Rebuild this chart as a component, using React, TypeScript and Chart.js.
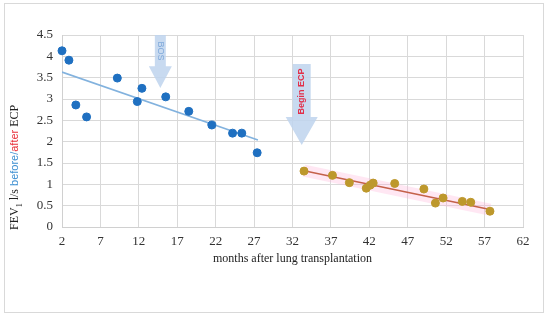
import React, { useEffect, useRef } from "react";
import { Chart, registerables } from "chart.js";

Chart.register(...registerables);

const blueX = [2.0, 2.9, 3.8, 5.2, 9.2, 11.8, 12.4, 15.5, 18.5, 21.5, 24.2, 25.4, 27.4];
const blueY = [4.13, 3.91, 2.86, 2.58, 3.49, 2.94, 3.25, 3.05, 2.71, 2.39, 2.2, 2.2, 1.74];
const goldX = [33.5, 37.2, 39.4, 41.6, 42.1, 42.5, 45.3, 49.1, 50.6, 51.6, 54.1, 55.2, 57.7];
const goldY = [1.31, 1.21, 1.04, 0.91, 0.98, 1.03, 1.02, 0.89, 0.56, 0.68, 0.6, 0.58, 0.37];
const blueTrendX = [2, 27.5];
const blueTrendY = [3.63, 2.04];
const redTrendX = [33.5, 57.7];
const redTrendY = [1.32, 0.41];
const arrowLabels = ["BOS", "Begin ECP"];
const arrowX = [14.8, 33.2];
const arrowTop = [4.5, 3.82];
const arrowHead = [3.77, 2.58];
const arrowTip = [3.26, 1.92];
const xTitle = "months after lung transplantation";

const pts = (xs: number[], ys: number[]) => xs.map((x, i) => ({ x, y: ys[i] }));

const SERIF = "'Liberation Serif', 'Times New Roman', serif";
const SANS = "'Liberation Sans', Arial, sans-serif";

const decor = {
  id: "decor",
  beforeDraw(chart: any) {
    const ctx = chart.ctx;
    ctx.save();
    ctx.fillStyle = "#fff";
    ctx.fillRect(0, 0, chart.width, chart.height);
    ctx.strokeStyle = "#d9d9d9";
    ctx.lineWidth = 1;
    ctx.strokeRect(4.5, 3.5, 539, 309);
    ctx.restore();
  },
  afterDatasetsDraw(chart: any) {
    const ctx = chart.ctx;
    const xs = chart.scales.x;
    const ys = chart.scales.y;
    ctx.save();
    const shaftHalf = [5.5, 9];
    const headHalf = [11.5, 16];
    arrowLabels.forEach((lab, i) => {
      const cx = xs.getPixelForValue(arrowX[i]);
      const t = ys.getPixelForValue(arrowTop[i]);
      const h = ys.getPixelForValue(arrowHead[i]);
      const tip = ys.getPixelForValue(arrowTip[i]);
      ctx.fillStyle = "rgba(190,212,237,0.85)";
      ctx.beginPath();
      ctx.moveTo(cx - shaftHalf[i], t);
      ctx.lineTo(cx + shaftHalf[i], t);
      ctx.lineTo(cx + shaftHalf[i], h);
      ctx.lineTo(cx + headHalf[i], h);
      ctx.lineTo(cx, tip);
      ctx.lineTo(cx - headHalf[i], h);
      ctx.lineTo(cx - shaftHalf[i], h);
      ctx.closePath();
      ctx.fill();
      ctx.save();
      if (i === 0) {
        ctx.translate(cx, t + 16);
        ctx.rotate(Math.PI / 2);
        ctx.fillStyle = "#7fa9da";
        ctx.font = `9px ${SANS}`;
      } else {
        ctx.translate(cx, (t + h) / 2 + 1);
        ctx.rotate(-Math.PI / 2);
        ctx.fillStyle = "#e2304a";
        ctx.font = `bold 9px ${SANS}`;
      }
      ctx.textAlign = "center";
      ctx.textBaseline = "middle";
      ctx.fillText(lab, 0, 0);
      ctx.restore();
    });
    ctx.restore();
  },
  afterDraw(chart: any) {
    const ctx = chart.ctx;
    const xs = chart.scales.x;
    ctx.save();
    ctx.fillStyle = "#222";
    ctx.font = `12px ${SERIF}`;
    ctx.textAlign = "center";
    ctx.textBaseline = "middle";
    ctx.fillText(xTitle, (xs.left + xs.right) / 2, 259);
    ctx.translate(18, 230);
    ctx.rotate(-Math.PI / 2);
    ctx.textAlign = "left";
    ctx.textBaseline = "alphabetic";
    const parts: [string, string, string, number][] = [
      ["FEV", SERIF, "#222", 0],
      ["1", SERIF, "#222", 4],
      [" l/s ", SERIF, "#222", 0],
      ["before", SANS, "#3d8fd1", 0],
      ["/", SANS, "#3d8fd1", 0],
      ["after", SANS, "#e8303a", 0],
      [" ECP", SERIF, "#222", 0],
    ];
    let x = 0;
    parts.forEach(([s, f, c, sub]) => {
      const size = sub ? 8 : f === SANS ? 11 : 12;
      ctx.font = `${size}px ${f}`;
      ctx.fillStyle = c;
      ctx.fillText(s, x, sub);
      x += ctx.measureText(s).width;
    });
    ctx.restore();
  },
};

export default function App() {
  const ref = useRef<HTMLCanvasElement>(null);
  useEffect(() => {
    document.body.style.margin = "0";
    const chart = new Chart(ref.current!, {
      type: "scatter",
      data: {
        datasets: [
          {
            type: "line",
            data: pts(redTrendX, redTrendY),
            borderColor: "rgba(255,175,215,0.3)",
            borderWidth: 12,
            pointRadius: 0,
            order: 5,
          } as any,
          {
            type: "line",
            data: pts(blueTrendX, blueTrendY),
            borderColor: "#82b2de",
            borderWidth: 1.6,
            pointRadius: 0,
            order: 4,
          } as any,
          {
            type: "line",
            data: pts(redTrendX, redTrendY),
            borderColor: "#c4614a",
            borderWidth: 1.5,
            pointRadius: 0,
            order: 4,
          } as any,
          {
            data: pts(blueX, blueY),
            backgroundColor: "#1f70c1",
            borderColor: "#1f70c1",
            pointRadius: 4,
            clip: false,
            order: 1,
          } as any,
          {
            data: pts(goldX, goldY),
            backgroundColor: "#bd982c",
            borderColor: "#bd982c",
            pointRadius: 4,
            clip: false,
            order: 1,
          } as any,
        ],
      },
      options: {
        animation: false,
        responsive: false,
        events: [],
        layout: { padding: { left: 0, top: 35, right: 27, bottom: 0 } },
        plugins: { legend: { display: false }, tooltip: { enabled: false } },
        scales: {
          x: {
            type: "linear",
            min: 2,
            max: 62,
            afterFit: (s: any) => { s.height = 93; },
            ticks: { stepSize: 5, color: "#333", padding: 7, font: { family: SERIF, size: 13 }, maxRotation: 0 },
            grid: { color: "#d9d9d9", drawTicks: false },
            border: { color: "#d0d0d0" },
          },
          y: {
            min: 0,
            max: 4.5,
            afterFit: (s: any) => { s.width = 62; },
            ticks: {
              stepSize: 0.5,
              color: "#333",
              padding: 9,
              font: { family: SERIF, size: 13 },
              callback: (v: number) => String(Math.round(v * 10) / 10),
            },
            grid: { color: "#d9d9d9", drawTicks: false },
            border: { color: "#d0d0d0" },
          },
        },
      },
      plugins: [decor],
    } as any);
    return () => chart.destroy();
  }, []);
  return (
    <div style={{ width: 550, height: 320 }}>
      <canvas ref={ref} width={550} height={320} />
    </div>
  );
}
